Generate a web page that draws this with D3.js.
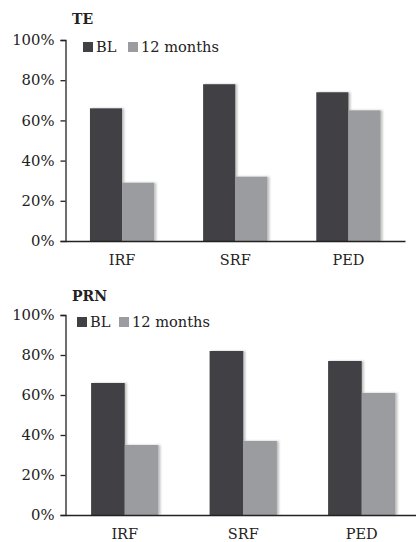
<!DOCTYPE html>
<html><head><meta charset="utf-8">
<script src="https://cdn.jsdelivr.net/npm/d3@7"></script>
<style>body{margin:0;background:#fff}svg{display:block}text{font-family:"DejaVu Serif",serif;fill:#222}</style>
</head><body>
<script>
const categories = ["IRF","SRF","PED"];
const seriesNames = ["BL","12 months"];
const teBL = [66,78,74];
const te12 = [29,32,65];
const prnBL = [66,82,77];
const prn12 = [35,37,61];
const yTicks = [0,20,40,60,80,100];
const colors = ["#404144","#9b9c9f"];

const svg = d3.select("body").append("svg").attr("width",416).attr("height",542);
const defs = svg.append("defs");
const f = defs.append("filter").attr("id","sh").attr("x","-20%").attr("y","-5%").attr("width","150%").attr("height","110%");
f.append("feDropShadow").attr("dx",2).attr("dy",0).attr("stdDeviation",1.2).attr("flood-color","#000").attr("flood-opacity",0.25);

function panel(cfg){
  const g = svg.append("g");
  const y = d3.scaleLinear().domain([0,100]).range([cfg.y0,cfg.y100]);
  const x = d3.scaleBand().domain(categories).range([cfg.x0,cfg.x1]).paddingInner(0.432).paddingOuter(0.216);
  const xs = d3.scaleBand().domain(seriesNames).range([0,x.bandwidth()]);
  const data = categories.map((c,i)=>({c, v:[cfg.bl[i],cfg.m12[i]]}));
  const grp = g.selectAll("g.cat").data(data).join("g").attr("transform",d=>`translate(${x(d.c)},0)`);
  grp.selectAll("rect").data(d=>d.v.map((v,j)=>({v,s:seriesNames[j],j}))).join("rect")
    .attr("x",d=>xs(d.s)).attr("width",xs.bandwidth())
    .attr("y",d=>y(d.v)).attr("height",d=>cfg.y0-y(d.v))
    .attr("fill",d=>colors[d.j]).attr("filter","url(#sh)");
  const ya = d3.axisLeft(y).tickValues(yTicks).tickFormat(d=>d+"%").tickSizeInner(5).tickSizeOuter(5).tickPadding(6);
  const yg = g.append("g").attr("transform",`translate(${cfg.x0},0)`).call(ya);
  yg.select(".domain").attr("stroke","#222").attr("stroke-width",1.3);
  yg.selectAll(".tick line").attr("stroke","#222").attr("stroke-width",1.3);
  yg.selectAll(".tick text").style("font-family","DejaVu Serif").attr("font-size",14.8).attr("fill","#222");
  const xa = d3.axisBottom(x).tickSize(0).tickPadding(14);
  const xg = g.append("g").attr("transform",`translate(0,${cfg.y0})`).call(xa);
  xg.select(".domain").attr("stroke","#222").attr("stroke-width",1.3);
  xg.selectAll(".tick text").style("font-family","DejaVu Serif").attr("font-size",14.5).attr("fill","#222");
  g.append("text").attr("x",72).attr("y",cfg.titleY).attr("font-size",14).attr("font-weight","bold").text(cfg.title);
  const lg = g.append("g");
  seriesNames.forEach((s,i)=>{
    lg.append("rect").attr("x",cfg.leg[i]).attr("y",cfg.legY-5).attr("width",10).attr("height",10).attr("fill",colors[i]);
    lg.append("text").attr("x",cfg.leg[i]+13).attr("y",cfg.legY+5).attr("font-size",14.6).text(s);
  });
}
panel({title:"TE",titleY:24,x0:65.5,x1:405,y0:241,y100:40,bl:teBL,m12:te12,leg:[83,128],legY:47});
panel({title:"PRN",titleY:301,x0:65.5,x1:421,y0:515,y100:315,bl:prnBL,m12:prn12,leg:[77,119],legY:322});
</script>
</body></html>
